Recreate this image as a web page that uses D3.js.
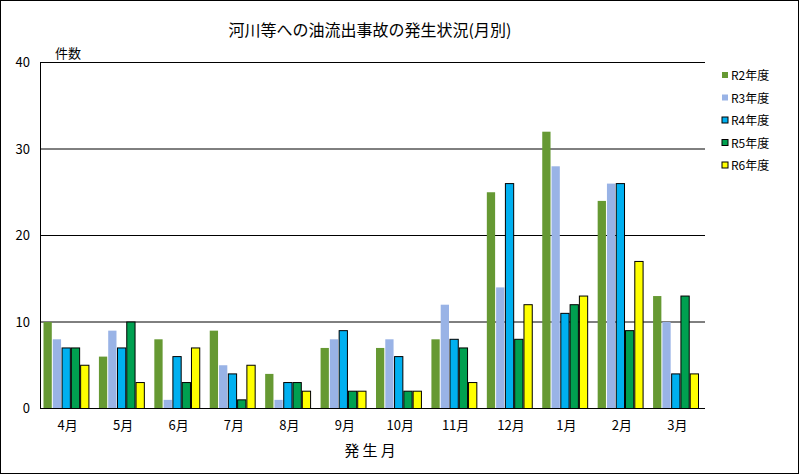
<!DOCTYPE html>
<html><head><meta charset="utf-8">
<script src="https://cdn.jsdelivr.net/npm/d3@7"></script>
<style>body{margin:0;background:#fff}svg{font-family:"Noto Sans CJK JP",sans-serif}</style>
</head><body><svg id="c" width="799" height="474"></svg>
<script>
const months = ["4月","5月","6月","7月","8月","9月","10月","11月","12月","1月","2月","3月"];
const seriesNames = ["R2年度","R3年度","R4年度","R5年度","R6年度"];
const r2 = [10,6,8,9,4,7,7,8,25,32,24,13];
const r3 = [8,9,1,5,1,8,8,12,14,28,26,10];
const r4 = [7,7,6,4,3,9,6,8,26,11,26,4];
const r5 = [7,10,3,1,3,2,2,7,8,12,9,13];
const r6 = [5,3,7,5,2,2,2,3,12,13,17,4];
const yTicks = [0,10,20,30,40];
const colors = ["#669933","#99b3e6","#00b0f0","#00a050","#ffff00"];
const strokes = ["none","none","#000","#000","#000"];
const series = [r2,r3,r4,r5,r6];

const svg = d3.select("#c");
svg.append("rect").attr("x",0.5).attr("y",0.5).attr("width",798).attr("height",473)
  .attr("fill","#fff").attr("stroke","#000");

const L=40,R=705,T=62,B=408;
const x = d3.scaleBand().domain(months).range([L,R]);
const xs = d3.scaleBand().domain(d3.range(5)).range([3,x.bandwidth()-6]).padding(0);
const y = d3.scaleLinear().domain([0,40]).range([B,T]);

svg.append("text").attr("x",370).attr("y",36).attr("text-anchor","middle")
  .attr("font-size",16).text("河川等への油流出事故の発生状況(月別)");
svg.append("text").attr("x",55).attr("y",58).attr("font-size",13).text("件数");

svg.selectAll(".grid").data(yTicks.slice(1)).join("line")
  .attr("x1",L).attr("x2",R).attr("y1",d=>y(d)+0.5).attr("y2",d=>y(d)+0.5).attr("stroke","#000");
svg.append("line").attr("x1",L+0.5).attr("x2",L+0.5).attr("y1",T).attr("y2",B).attr("stroke","#000");

svg.selectAll(".yl").data(yTicks).join("text")
  .attr("x",30).attr("y",d=>y(d)+5).attr("text-anchor","end").attr("font-size",13).text(d=>d);

series.forEach((s,i)=>{
  svg.append("g").selectAll("rect").data(s).join("rect")
    .attr("x",(d,j)=>x(months[j])+xs(i)+0.5)
    .attr("y",d=>y(d)+0.5)
    .attr("width",xs.bandwidth()-1)
    .attr("height",d=>B-y(d))
    .attr("fill",colors[i]).attr("stroke",strokes[i]);
});
svg.append("line").attr("x1",L).attr("x2",R).attr("y1",B+0.5).attr("y2",B+0.5).attr("stroke","#000");

svg.selectAll(".xl").data(months).join("text")
  .attr("x",d=>x(d)+x.bandwidth()/2).attr("y",430).attr("text-anchor","middle")
  .attr("font-size",13).text(d=>d);
svg.append("text").attr("x",370).attr("y",456).attr("text-anchor","middle")
  .attr("font-size",15).text("発 生 月");

const lg = svg.append("g").attr("transform","translate(722,72)");
seriesNames.forEach((n,i)=>{
  lg.append("rect").attr("x",0).attr("y",i*22.5).attr("width",6).attr("height",6)
    .attr("fill",colors[i]).attr("stroke",strokes[i]);
  lg.append("text").attr("x",9).attr("y",i*22.5+8).attr("font-size",12).text(n);
});
</script></body></html>
